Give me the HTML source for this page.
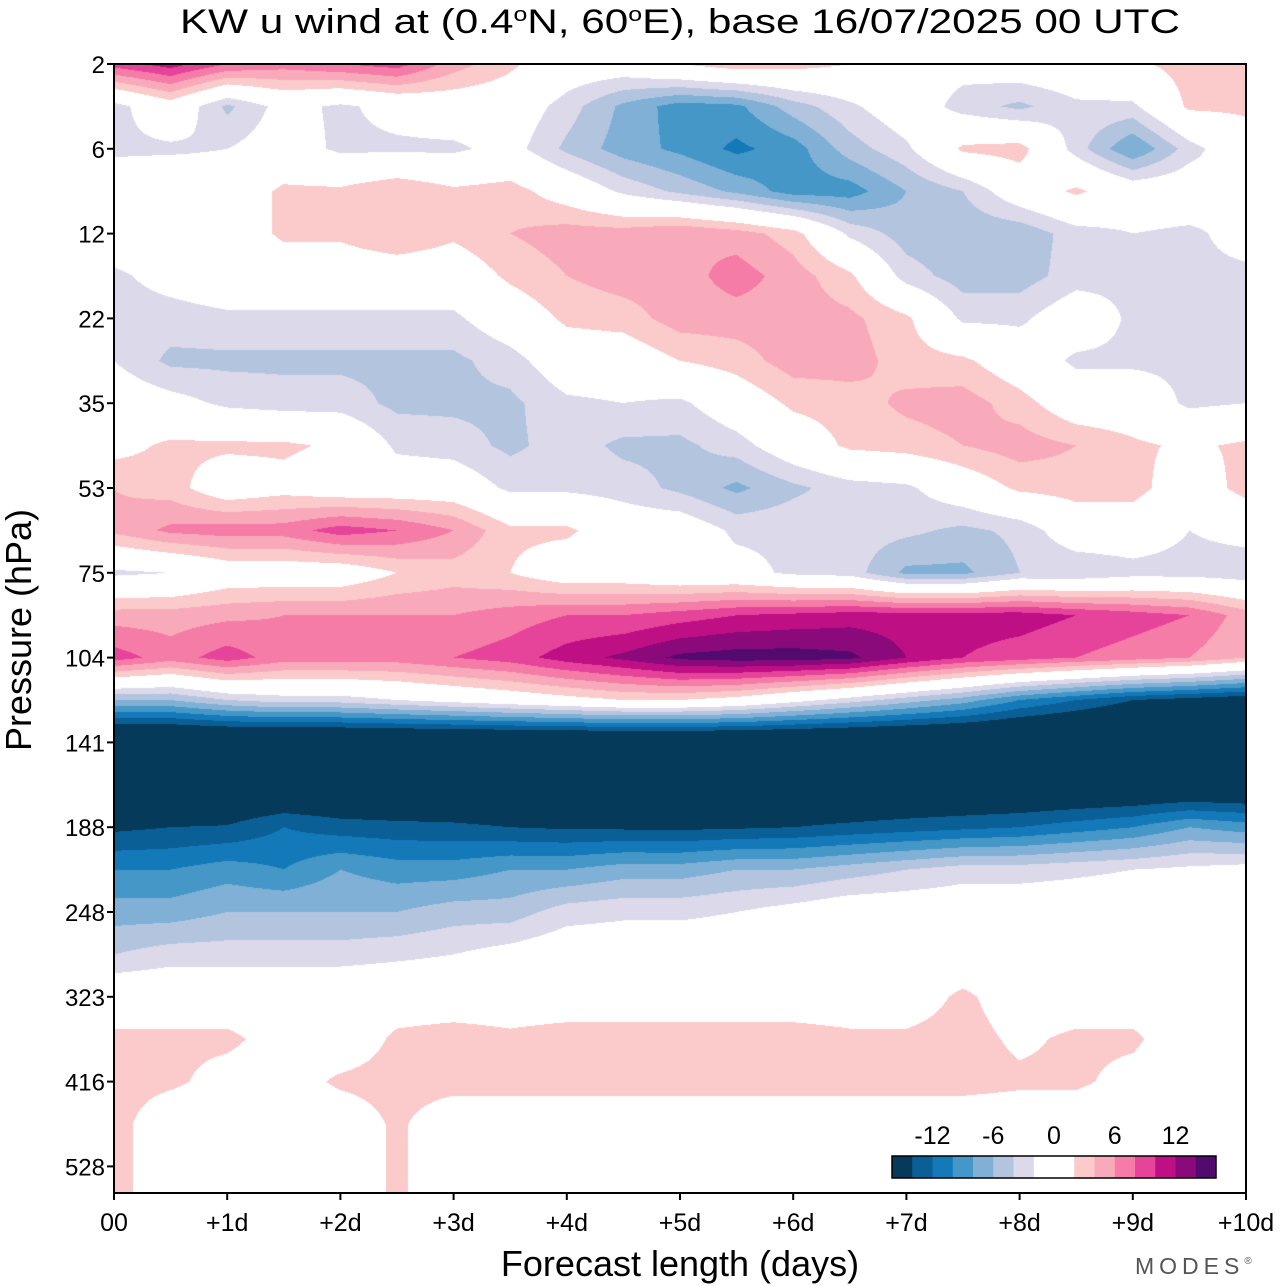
<!DOCTYPE html>
<html><head><meta charset="utf-8"><style>
html,body{margin:0;padding:0;background:#fff;}
#wrap{position:relative;width:1280px;height:1286px;overflow:hidden;}
canvas{position:absolute;left:114px;top:64px;}
svg{position:absolute;left:0;top:0;}
text{font-family:"Liberation Sans",sans-serif;fill:#000;}
</style></head><body>
<div id="wrap">
<canvas id="cv" width="1132" height="1129"></canvas>
<svg id="sv" width="1280" height="1286"></svg>
</div>
<script>
// Forecast days (columns, every half day)
const days = [0,0.5,1,1.5,2,2.5,3,3.5,4,4.5,5,5.5,6,6.5,7,7.5,8,8.5,9,9.5,10];
// Row positions in log-pressure label index units (0 = 2 hPa ... 13 = 528 hPa)
const levels = [0,0.5,1,1.5,2,2.5,3,3.5,4,4.5,5,5.5,6,6.5,7,7.5,8,8.5,9,9.5,10,10.5,11,11.5,12,12.5,13,13.5];
const pressureLabels = ["2","6","12","22","35","53","75","104","141","188","248","323","416","528"];
const dayLabels = ["00","+1d","+2d","+3d","+4d","+5d","+6d","+7d","+8d","+9d","+10d"];
const contourLevels = [-14,-12,-10,-8,-6,-4,-2,2,4,6,8,10,12,14];
const legendLabels = ["-12","-6","0","6","12"];
const legendValues = [-12,-6,0,6,12];
// u wind values (m/s), one row per level
const windU = [
[9,11,8,7,8,9,5,2.5,0,0,2,3.5,3,2,-0.5,-1,0,0.5,1.5,3,2.5],
[-3,0.5,-4.5,-1,-2.5,-1,0,0,-3,-6.5,-9,-8.5,-5,-2.5,0,-3,-4.5,-2.5,-2.5,2.5,2.5],
[-2.5,-2.5,-2,-0.5,-2.5,-2.5,-2.5,-1,-4.5,-7,-8.5,-10.5,-9,-5,-2.5,2.5,3,-3,-8,-3,0.5],
[0,1,0,2.5,2.5,4,2.5,3,0.5,-2.5,-4.5,-6.5,-9,-9,-6,-4,0,2.5,0,0,-2],
[0,0,0,2.5,2.5,4,2.5,4,5,5,6,5,3,-2.5,-5,-5.5,-5.5,-3,-2,-2.5,-1],
[-2.5,-1,0,0,0,0,0,2.5,4,5,5,7,5,2.5,-3,-5,-5,-3,-2.5,-2.5,-2.5],
[-3,-3,-2.5,-2.5,-2.5,-2.5,-2.5,0,2.5,3,5,5,5,4.5,2.5,-2.5,-2.5,0,-2.5,-3,-3],
[-2,-4.5,-4.5,-4.5,-4.5,-4.5,-4.5,-3,0,0,2,3,5,5,3,2.5,0,-2.5,-2.5,-2.5,-2],
[0,-1,-2.5,-3,-3,-4.5,-4.5,-4.5,-2.5,-2,-2.5,0,2.5,3,4.5,5,3,0,0,-2.5,-2],
[1,2.5,2.5,2.5,1.5,-2.5,-3,-4.5,-3,-4.5,-4.5,-3,0,2.5,3,4,5,4,2.5,1.5,2.5],
[4,3,0,1,0,0,0,-2.5,-2.5,-3,-4.5,-6.5,-4.5,-3,-2.5,0,2.5,3,3,0,3],
[4.5,6.5,7,7,9,8,6,2.5,2.5,0,0,-2.5,-2.5,-3,-3.5,-4.5,-3.5,0,0,-2,-1],
[-2.5,-2,0,0,0,2,3,2,0,0,-1,-1,-2.5,-3,-6.5,-6.5,-4,-4,-3,-3,-3.5],
[5,5,5.5,6,6,6,6,7,8,8,9,10,10.5,11,11,11,11,10,9,8,5],
[9,7,9,7,7,7,8,9,11,12.5,14.5,15,15,14.5,12,10,9,8,7,6,4],
[-6,-6,-4,-3,-3,-2,-1,0,1,2,2,1,-1,-3,-5,-7,-10,-12,-14,-15,-16],
[-20,-20,-20,-20,-20,-20,-20,-20,-20,-20,-20,-20,-20,-20,-20,-20,-20,-20,-20,-20,-20],
[-18,-18,-18,-18,-18,-18,-18,-18,-18,-18,-18,-18,-18,-18,-18,-18,-18,-18,-18,-18,-18],
[-14.5,-14,-13.8,-12,-13,-13.3,-13.5,-14,-14.3,-14.4,-14.5,-14.3,-14,-13.5,-13,-12.5,-12,-11,-10,-8,-9],
[-10,-10,-9,-10,-8,-9,-9,-8,-8,-7,-7,-6,-6,-5,-4,-3,-3,-2.5,-2,-1.5,-1],
[-7,-7,-6,-6,-6,-6,-5,-5,-3,-2.5,-2.5,-2,-1,0,0,0,0,0,0,0,0],
[-4,-3,-3,-3,-3,-2.5,-2,-1,0,0,0,0,0,0,0,0,0,0,0,0,0],
[0.5,0.5,0.5,0.5,0.5,0.5,0.5,0.5,0.5,0.5,0.5,0.5,0.5,0.5,0.5,2.5,0.5,0.5,0.5,0.5,0.5],
[2.5,2.5,2.5,1,0,2.5,3,2.5,3,3,3,3,3,2.5,2.5,3,1.5,2.5,2.5,0,0],
[3,2.5,1,0.5,2.5,3,3,3,3,3,3,3,3,3,3,3,2.5,2.5,1,0,0],
[3,0,0,0,0,2.5,0,0,0,0,0,0,0,0,0,0,0,0,0,0,0],
[3,0,0,0,0,2.5,0,0,0,0,0,0,0,0,0,0,0,0,0,0,0],
[2.5,1,0,0,0,2.5,0,0,0,0,0,0,0,2.5,0,0,0,0,0,0,0]
];
const colors = ["#063a5a","#0a5f96","#1479b8","#4497c6","#80b0d5","#b3c4df","#dcd9ea","#ffffff","#fbcaca","#f8aabb","#f57ca6","#e6449a","#be0f84","#8a0a7b","#530a6e"];

const X0=114, X1=1246, Y0=64, Y1=1193, YSTEP=84.8;
function xScale(d){ return X0 + (X1-X0)*d/10; }
function yScale(l){ return Y0 + l*YSTEP; }
function hex(c){ return [parseInt(c.substr(1,2),16),parseInt(c.substr(3,2),16),parseInt(c.substr(5,2),16)]; }
const rgb = colors.map(hex);

// draw field
const cv=document.getElementById('cv'), ctx=cv.getContext('2d');
const W=cv.width, H=cv.height, img=ctx.createImageData(W,H);
for(let py=0;py<H;py++){
  const l=(py+0.5)/YSTEP;
  let r=0; while(r<levels.length-2 && levels[r+1]<=l) r++;
  const ty=Math.min(1,Math.max(0,(l-levels[r])/(levels[r+1]-levels[r])));
  for(let px=0;px<W;px++){
    const d=(px+0.5)/(X1-X0)*10;
    let c=0; while(c<days.length-2 && days[c+1]<=d) c++;
    const tx=Math.min(1,Math.max(0,(d-days[c])/(days[c+1]-days[c])));
    const v=(windU[r][c]*(1-tx)+windU[r][c+1]*tx)*(1-ty)+(windU[r+1][c]*(1-tx)+windU[r+1][c+1]*tx)*ty;
    let k=0; while(k<contourLevels.length && v>=contourLevels[k]) k++;
    const o=(py*W+px)*4, col=rgb[k];
    img.data[o]=col[0]; img.data[o+1]=col[1]; img.data[o+2]=col[2]; img.data[o+3]=255;
  }
}
ctx.putImageData(img,0,0);

// overlay
const sv=document.getElementById('sv'), NS='http://www.w3.org/2000/svg';
function mk(tag,attrs,parent){ const e=document.createElementNS(NS,tag); for(const k in attrs) e.setAttribute(k,attrs[k]); (parent||sv).appendChild(e); return e; }

const title=mk('text',{x:680,y:33,'text-anchor':'middle','font-size':34,textLength:1000,lengthAdjust:'spacingAndGlyphs'});


title.innerHTML='KW u wind at (0.4<tspan dy="-12" font-size="20">o</tspan><tspan dy="12">N, 60</tspan><tspan dy="-12" font-size="20">o</tspan><tspan dy="12">E),  base 16/07/2025  00 UTC</tspan>';

const frame=mk('rect',{x:X0,y:Y0,width:X1-X0,height:Y1-Y0,fill:'none',stroke:'#000','stroke-width':2});



pressureLabels.forEach((p,i)=>{
  const y=yScale(i);
  const t=mk('line',{x1:X0-7,x2:X0,y1:y,y2:y,stroke:'#000','stroke-width':2});
  
  
  const tx=mk('text',{x:X0-9,y:y+9,'text-anchor':'end','font-size':24});
  
  
  tx.textContent=p;
});
dayLabels.forEach((d,i)=>{
  const x=xScale(i);
  const t=mk('line',{x1:x,x2:x,y1:Y1,y2:Y1+7,stroke:'#000','stroke-width':2});
  
  
  const tx=mk('text',{x:x,y:Y1+38,'text-anchor':'middle','font-size':25});
  
  
  tx.textContent=d;
});
const xt=mk('text',{x:680,y:1276,'text-anchor':'middle','font-size':36});


xt.textContent='Forecast length (days)';
const yt=mk('text',{x:0,y:0,'text-anchor':'middle','font-size':36,transform:'translate(31,630) rotate(-90)'});


yt.textContent='Pressure (hPa)';
const logo=mk('text',{x:1135,y:1274,'font-size':23,'letter-spacing':'5'});


logo.style.fill='#555';
logo.innerHTML='MODES<tspan font-size="10" dy="-10">®</tspan>';

// legend
const LX=892, LY=1156, LW=324, LH=22, n=16, bw=LW/n;
const lg=mk('g',{});


const boxColors=colors.slice(0,7).concat(['#ffffff','#ffffff']).concat(colors.slice(8));
boxColors.forEach((c,i)=>{
  const b=mk('rect',{x:LX+i*bw,y:LY,width:bw+0.5,height:LH,fill:c},lg);
  
  
});
mk('rect',{x:LX,y:LY,width:LW,height:LH,fill:'none',stroke:'#000','stroke-width':1.5},lg);
function legendX(v){ return LX + LW/2 + v/2*bw; }
legendLabels.forEach((s,i)=>{
  const t=mk('text',{x:legendX(legendValues[i]),y:1144,'text-anchor':'middle','font-size':25},lg);
  
  
  t.textContent=s;
});
</script>
</body></html>
